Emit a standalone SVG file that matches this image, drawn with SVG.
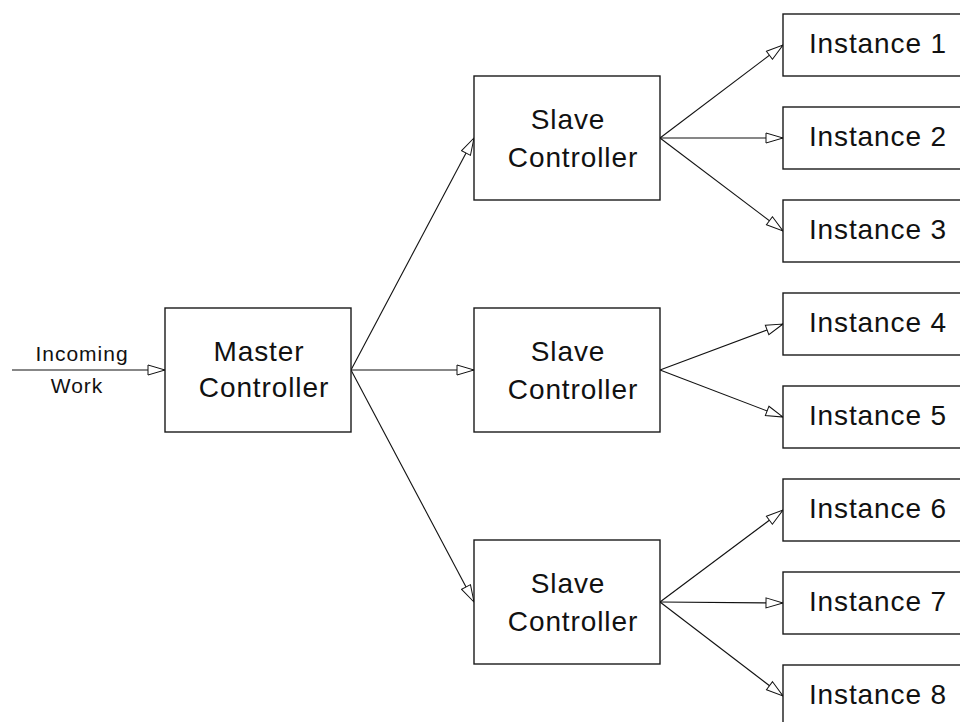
<svg xmlns="http://www.w3.org/2000/svg" width="960" height="722" viewBox="0 0 960 722">
<style>
  .box { fill: #ffffff; stroke: #1a1a1a; stroke-width: 1.4; }
  .lbl { font-family: "Liberation Sans", Arial, sans-serif; font-size: 28px; letter-spacing: 0.9px; fill: #111; text-anchor: middle; }
  .small { font-family: "Liberation Sans", Arial, sans-serif; font-size: 21px; letter-spacing: 1px; fill: #111; text-anchor: middle; }
  .conn line { stroke: #111; stroke-width: 1.1; marker-end: url(#arrow); }
</style>
<defs>
  <marker id="arrow" markerUnits="userSpaceOnUse" markerWidth="20" markerHeight="12" refX="17" refY="5" orient="auto" viewBox="-1 -1 20 12">
    <path d="M0,0 L17,5 L0,10 Z" fill="#ffffff" stroke="#111" stroke-width="1"/>
  </marker>
</defs>
<rect width="960" height="722" fill="#ffffff"/>
<g id="connectors" class="conn">
  <line x1="12" y1="370" x2="165" y2="370"/>
  <line x1="351" y1="370" x2="474" y2="138"/>
  <line x1="351" y1="370" x2="474" y2="370"/>
  <line x1="351" y1="370" x2="474" y2="602"/>
  <line x1="660" y1="138" x2="783" y2="45"/>
  <line x1="660" y1="138" x2="783" y2="138"/>
  <line x1="660" y1="138" x2="783" y2="231"/>
  <line x1="660" y1="370" x2="783" y2="324"/>
  <line x1="660" y1="370" x2="783" y2="417"/>
  <line x1="660" y1="602" x2="783" y2="510"/>
  <line x1="660" y1="602" x2="783" y2="603"/>
  <line x1="660" y1="602" x2="783" y2="696"/>
</g>
<g id="incoming-label">
  <text class="small" x="82" y="361">Incoming</text>
  <text class="small" x="77" y="393">Work</text>
</g>
<g id="master">
  <rect class="box" x="165" y="308" width="186" height="124"/>
  <text class="lbl" x="259" y="361">Master</text>
  <text class="lbl" x="264" y="397">Controller</text>
</g>
<g id="slave1">
  <rect class="box" x="474" y="76" width="186" height="124"/>
  <text class="lbl" x="568" y="129">Slave</text>
  <text class="lbl" x="573" y="167">Controller</text>
</g>
<g id="slave2">
  <rect class="box" x="474" y="308" width="186" height="124"/>
  <text class="lbl" x="568" y="361">Slave</text>
  <text class="lbl" x="573" y="399">Controller</text>
</g>
<g id="slave3">
  <rect class="box" x="474" y="540" width="186" height="124"/>
  <text class="lbl" x="568" y="593">Slave</text>
  <text class="lbl" x="573" y="631">Controller</text>
</g>
<g id="instance1"><rect class="box" x="783" y="14" width="190" height="62"/><text class="lbl" x="878" y="53">Instance 1</text></g>
<g id="instance2"><rect class="box" x="783" y="107" width="190" height="62"/><text class="lbl" x="878" y="146">Instance 2</text></g>
<g id="instance3"><rect class="box" x="783" y="200" width="190" height="62"/><text class="lbl" x="878" y="239">Instance 3</text></g>
<g id="instance4"><rect class="box" x="783" y="293" width="190" height="62"/><text class="lbl" x="878" y="332">Instance 4</text></g>
<g id="instance5"><rect class="box" x="783" y="386" width="190" height="62"/><text class="lbl" x="878" y="425">Instance 5</text></g>
<g id="instance6"><rect class="box" x="783" y="479" width="190" height="62"/><text class="lbl" x="878" y="518">Instance 6</text></g>
<g id="instance7"><rect class="box" x="783" y="572" width="190" height="62"/><text class="lbl" x="878" y="611">Instance 7</text></g>
<g id="instance8"><rect class="box" x="783" y="665" width="190" height="62"/><text class="lbl" x="878" y="704">Instance 8</text></g>
</svg>
